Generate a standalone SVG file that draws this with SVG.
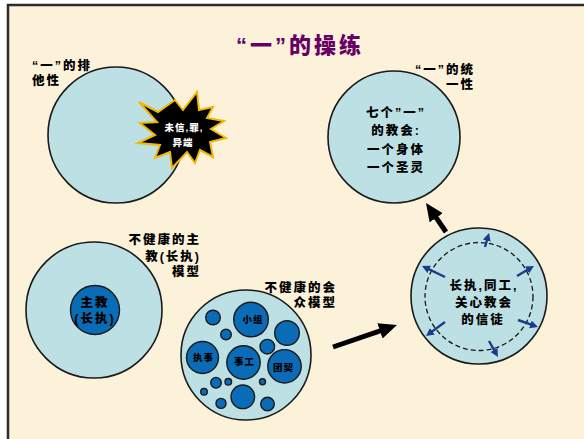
<svg xmlns="http://www.w3.org/2000/svg" width="584" height="439" viewBox="0 0 584 439">
<defs>
<style>
.bg{fill:#FCF1D9}
.frame{stroke:#2a2a2a;stroke-width:2.5;fill:none}
.lc{fill:#BCE0E4;stroke:#1a1a1a;stroke-width:1.6}
.dc{fill:#0A6BB6;stroke:#1a1a1a;stroke-width:1.4}
.t{font-family:"Liberation Sans","Noto Sans CJK SC",sans-serif;font-weight:900;font-size:12.5px;letter-spacing:2px;fill:#000}
.ts{font-family:"Liberation Sans","Noto Sans CJK SC",sans-serif;font-weight:900;font-size:9.5px;letter-spacing:1px;fill:#000}
.tw{font-family:"Liberation Sans","Noto Sans CJK SC",sans-serif;font-weight:900;font-size:9.5px;letter-spacing:1px;fill:#fff}
.title{font-family:"Liberation Sans","Noto Sans CJK SC",sans-serif;font-weight:900;font-size:22px;letter-spacing:3px;fill:#660066}
.m{text-anchor:middle}
.e{text-anchor:end}
.big{stroke:#000;stroke-width:5;fill:none}
.sm{stroke:#1B3A8C;stroke-width:2.4;fill:none}
</style>
<marker id="hb" markerUnits="userSpaceOnUse" markerWidth="19" markerHeight="17" refX="8" refY="8" orient="auto" viewBox="0 0 19 17">
<path d="M0,0 L18,8 L0,16 z" fill="#000"/>
</marker>
<marker id="hs" markerUnits="userSpaceOnUse" markerWidth="9" markerHeight="9" refX="4" refY="4" orient="auto" viewBox="0 0 9 9">
<path d="M0,0 L8,4 L0,8 z" fill="#1B3A8C"/>
</marker>
</defs>
<rect width="584" height="439" fill="#ffffff"/>
<rect class="bg" x="8" y="5" width="576" height="434"/>
<path class="frame" d="M8,439 L8,5 L584,5"/>

<text class="title m" x="300" y="53">“一”的操练</text>

<g id="node-exclusive">
<circle class="lc" cx="116" cy="135" r="68"/>
<text class="t" x="32" y="70">“一”的排</text>
<text class="t" x="32" y="85">他性</text>
</g>

<g id="node-burst">
<polygon points="139,102 158,112 175,100 183,110 197,92 199,110 213,107 207,118 224,121 211,129 226,138 210,142 213,157 200,150 195,163 187,152 172,168 170,152 155,158 160,145 138,143 155,135 140,123 157,122" fill="#000" stroke="#F2B705" stroke-width="2" stroke-linejoin="miter"/>
<text class="tw m" x="184" y="131">未信,罪,</text>
<text class="tw m" x="183" y="146">异端</text>
</g>

<g id="node-unity">
<circle class="lc" cx="394" cy="137" r="66"/>
<text class="t e" x="475" y="74">“一”的统</text>
<text class="t e" x="475" y="89">一性</text>
<text class="t m" x="396" y="117">七个”一”</text>
<text class="t m" x="396" y="135">的教会:</text>
<text class="t m" x="396" y="154">一个身体</text>
<text class="t m" x="396" y="172">一个圣灵</text>
</g>

<g id="node-bishop">
<circle class="lc" cx="94" cy="310" r="68"/>
<circle class="dc" cx="95" cy="310" r="24.5"/>
<text class="t m" x="95" y="307">主教</text>
<text class="t m" x="95" y="323">(长执)</text>
<text class="t e" x="201" y="244">不健康的主</text>
<text class="t e" x="201" y="261">教(长执)</text>
<text class="t e" x="201" y="276">模型</text>
</g>

<g id="node-congregation">
<circle class="lc" cx="246" cy="355" r="65"/>
<circle class="dc" cx="213" cy="317.5" r="7.3"/>
<circle class="dc" cx="251" cy="319.5" r="17.3"/>
<circle class="dc" cx="226" cy="334.5" r="5.3"/>
<circle class="dc" cx="287" cy="333" r="12.3"/>
<circle class="dc" cx="202.5" cy="357.5" r="16"/>
<circle class="dc" cx="243.5" cy="362.5" r="16.7"/>
<circle class="dc" cx="267.3" cy="346.7" r="7.3"/>
<circle class="dc" cx="284.5" cy="366.3" r="16.7"/>
<circle class="dc" cx="216" cy="382.7" r="5.3"/>
<circle class="dc" cx="228.3" cy="381.8" r="3.3"/>
<circle class="dc" cx="204" cy="391.7" r="3.3"/>
<circle class="dc" cx="242.8" cy="396.8" r="11.8"/>
<circle class="dc" cx="221" cy="403.4" r="5"/>
<circle class="dc" cx="262.5" cy="381.8" r="3"/>
<circle class="dc" cx="267.5" cy="404" r="6.8"/>
<text class="ts m" x="253" y="323">小组</text>
<text class="ts m" x="203.5" y="361">执事</text>
<text class="ts m" x="244.5" y="365">事工</text>
<text class="ts m" x="283.5" y="370.5">团契</text>
<text class="t e" x="337" y="292">不健康的会</text>
<text class="t e" x="337" y="307">众模型</text>
</g>

<g id="node-caring">
<circle class="lc" cx="479" cy="296" r="68"/>
<circle cx="479" cy="296.5" r="54" fill="none" stroke="#1a1a1a" stroke-width="1.3" stroke-dasharray="5,3"/>
<text class="t m" x="484" y="290">长执,同工,</text>
<text class="t m" x="484" y="307">关心教会</text>
<text class="t m" x="483" y="324">的信徒</text>
</g>

<g id="connectors">
<line class="big" x1="446" y1="232" x2="431.7" y2="211.2" marker-end="url(#hb)"/>
<line class="big" x1="333" y1="347" x2="387.5" y2="328.3" marker-end="url(#hb)"/>
<line class="sm" x1="485" y1="247" x2="487.9" y2="236.8" marker-end="url(#hs)"/>
<line class="sm" x1="517" y1="276" x2="530.5" y2="268" marker-end="url(#hs)"/>
<line class="sm" x1="445" y1="277" x2="425.6" y2="267.7" marker-end="url(#hs)"/>
<line class="sm" x1="445" y1="322" x2="429.2" y2="333.6" marker-end="url(#hs)"/>
<line class="sm" x1="518" y1="320" x2="534.2" y2="325.7" marker-end="url(#hs)"/>
<line class="sm" x1="489" y1="341" x2="496" y2="353.5" marker-end="url(#hs)"/>
</g>
</svg>
